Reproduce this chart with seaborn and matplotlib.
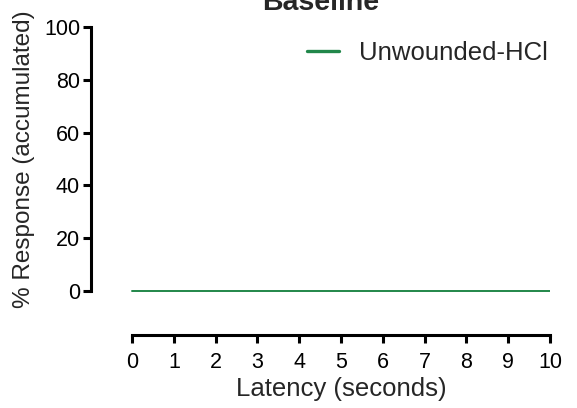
import numpy as np
import pandas as pd
import seaborn as sns
import matplotlib.pyplot as plt

latency = [0, 1, 2, 3, 4, 5, 6, 7, 8, 9, 10]
response = [0, 0, 0, 0, 0, 0, 0, 0, 0, 0, 0]
group = 'Unwounded-HCl'
x_ticks = [0, 1, 2, 3, 4, 5, 6, 7, 8, 9, 10]
y_ticks = [0, 20, 40, 60, 80, 100]

df = pd.DataFrame({'Latency': latency, 'Response': response, 'Group': group})

sns.set_style('ticks')
plt.rcParams['font.family'] = ['Liberation Sans', 'DejaVu Sans']

fig = plt.figure(figsize=(5.77, 4.08), dpi=100)
ax_pos = [0.158, 0.179, 0.795, 0.755]
ax = fig.add_axes(ax_pos)
sns.lineplot(data=df, x='Latency', y='Response', hue='Group', palette=['#21874a'],
             linewidth=1.4, ax=ax)

xlim = (-0.98, 10.0)
ylim = (-16.7, 100)
ax.set_xlim(*xlim)
ax.set_ylim(*ylim)
ax.set_xticks(x_ticks)
ax.set_yticks(y_ticks)
for s in ['top', 'right']:
    ax.spines[s].set_visible(False)
ax.spines['left'].set_bounds(0, 100)
ax.spines['bottom'].set_bounds(0, 10)
for s in ['left', 'bottom']:
    ax.spines[s].set_linewidth(2.2)
    ax.spines[s].set_color('black')
ax.tick_params(axis='both', length=6, width=2.2, labelsize=15.5, colors='black')
ax.tick_params(axis='x', pad=6)
ax.tick_params(axis='y', pad=2)

# labels centred on the drawn spines, not on the whole axes
w_px = ax_pos[2] * 577
h_px = ax_pos[3] * 408
ax.set_xlabel('Latency (seconds)', fontsize=18.5)
ax.set_ylabel('% Response (accumulated)', fontsize=17.5)
ax.xaxis.set_label_coords((5 - xlim[0]) / (xlim[1] - xlim[0]), -42 / h_px)
ax.yaxis.set_label_coords(-56 / w_px, (50 - ylim[0]) / (ylim[1] - ylim[0]))
ax.set_title('Baseline', fontsize=20.5, fontweight='bold', pad=12)

leg = ax.legend(loc='upper right', bbox_to_anchor=(1.047, 1.03), frameon=False, fontsize=18.5,
                handlelength=1.25, handletextpad=0.8)
for line in leg.get_lines():
    line.set_linewidth(2.4)

fig.savefig('out.png', dpi=100)
